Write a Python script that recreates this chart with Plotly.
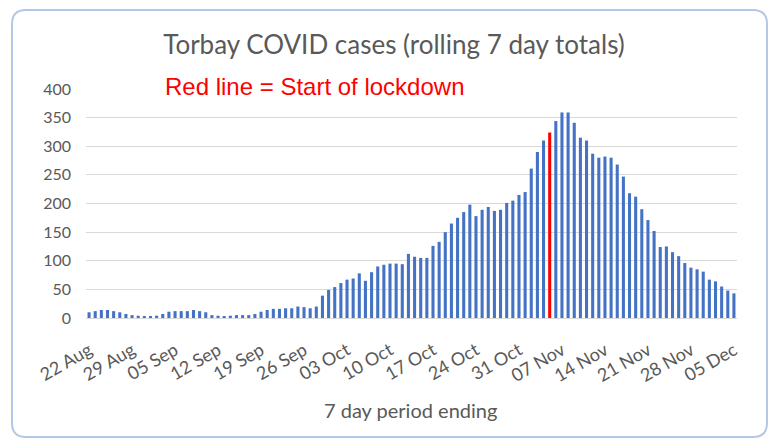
import plotly.graph_objects as go
import pandas as pd

# ---------------- data ----------------
start_date = "2020-08-22"
n_days = 106
categories = [d.strftime("%d %b") for d in pd.date_range(start_date, periods=n_days, freq="D")]

cases = [
    10, 12, 14, 14, 12, 10, 7, 5, 4, 3,
    2, 4, 7, 11, 12, 12, 12, 14, 12, 10,
    5, 4, 3, 4, 5, 5, 5, 7, 11, 14,
    16, 16, 17, 17, 20, 19, 17, 20, 39, 49,
    54, 61, 67, 69, 78, 65, 80, 90, 93, 95,
    95, 94, 112, 107, 105, 105, 126, 133, 150, 165,
    175, 185, 198, 178, 189, 194, 187, 189, 201, 205,
    215, 220, 261, 290, 310, 324, 344, 359, 359, 341,
    315, 310, 287, 280, 282, 280, 268, 247, 218, 212,
    190, 171, 152, 124, 125, 115, 108, 96, 88, 85,
    81, 67, 64, 55, 48, 43,
]

tick_labels = ["22 Aug", "29 Aug", "05 Sep", "12 Sep", "19 Sep", "26 Sep", "03 Oct",
               "10 Oct", "17 Oct", "24 Oct", "31 Oct", "07 Nov", "14 Nov", "21 Nov",
               "28 Nov", "05 Dec"]
lockdown_day = "05 Nov"

# ---------------- layout constants ----------------
W, H = 773, 441
L, R, T, B = 86, 36, 89, 123
PW, PH = W - L - R, H - T - B
TXT = "#595959"
FONT = "Lato"


def fx(px):
    return (px - L) / PW


def fy(py):
    return ((H - B) - py) / PH


colors = ["#FF0000" if c == lockdown_day else "#4472C4" for c in categories]

fig = go.Figure(go.Bar(
    x=categories, y=cases,
    marker=dict(color=colors, line=dict(width=0)),
    width=0.5,
    hoverinfo="x+y",
))

# rounded chart border
X0, X1, Y0, Y1, r = 12, 767, 10, 437, 14
path = (f"M {fx(X0 + r)} {fy(Y0)} L {fx(X1 - r)} {fy(Y0)} "
        f"Q {fx(X1)} {fy(Y0)} {fx(X1)} {fy(Y0 + r)} "
        f"L {fx(X1)} {fy(Y1 - r)} Q {fx(X1)} {fy(Y1)} {fx(X1 - r)} {fy(Y1)} "
        f"L {fx(X0 + r)} {fy(Y1)} Q {fx(X0)} {fy(Y1)} {fx(X0)} {fy(Y1 - r)} "
        f"L {fx(X0)} {fy(Y0 + r)} Q {fx(X0)} {fy(Y0)} {fx(X0 + r)} {fy(Y0)} Z")

fig.update_layout(
    width=W, height=H,
    margin=dict(l=L, r=R, t=T, b=B, pad=0),
    paper_bgcolor="white", plot_bgcolor="white",
    showlegend=False,
    font=dict(family=FONT, color=TXT),
    title=dict(text="Torbay COVID cases (rolling 7 day totals)",
               x=394 / W, xref="container", xanchor="center",
               y=1 - 45 / H, yref="container", yanchor="middle",
               font=dict(family=FONT, size=26, color=TXT)),
    xaxis=dict(type="category", categoryorder="array", categoryarray=categories,
               tickmode="array", tickvals=tick_labels, ticktext=tick_labels,
               tickangle=-30, tickfont=dict(family=FONT, size=18, color=TXT),
               ticklabelstandoff=14,
               showgrid=False, showline=True, linecolor="#D9D9D9", linewidth=1,
               ticks="", range=[-0.5, n_days - 0.5], automargin=False),
    yaxis=dict(range=[0, 400], dtick=50, tick0=0,
               gridcolor="#D9D9D9", gridwidth=1, zeroline=False, showline=False,
               tickfont=dict(family=FONT, size=16, color=TXT),
               ticklabelstandoff=14, automargin=False),
    shapes=[dict(type="path", path=path, xref="paper", yref="paper",
                 line=dict(color="#B4C7E7", width=2), fillcolor="rgba(0,0,0,0)",
                 layer="below")],
    annotations=[
        dict(text="Red line = Start of lockdown", xref="paper", yref="paper",
             x=fx(163), y=fy(86), xanchor="left", yanchor="middle", showarrow=False,
             font=dict(family="Liberation Sans, Arial", size=24, color="#FF0000")),
        dict(text="7 day period ending", xref="paper", yref="paper",
             x=fx(410), y=fy(410), xanchor="center", yanchor="middle", showarrow=False,
             font=dict(family=FONT, size=20, color=TXT)),
    ],
    bargap=0.5,
)

fig.write_html("out.html", config={"displayModeBar": False},
               post_script="document.body.style.margin='0px';")
